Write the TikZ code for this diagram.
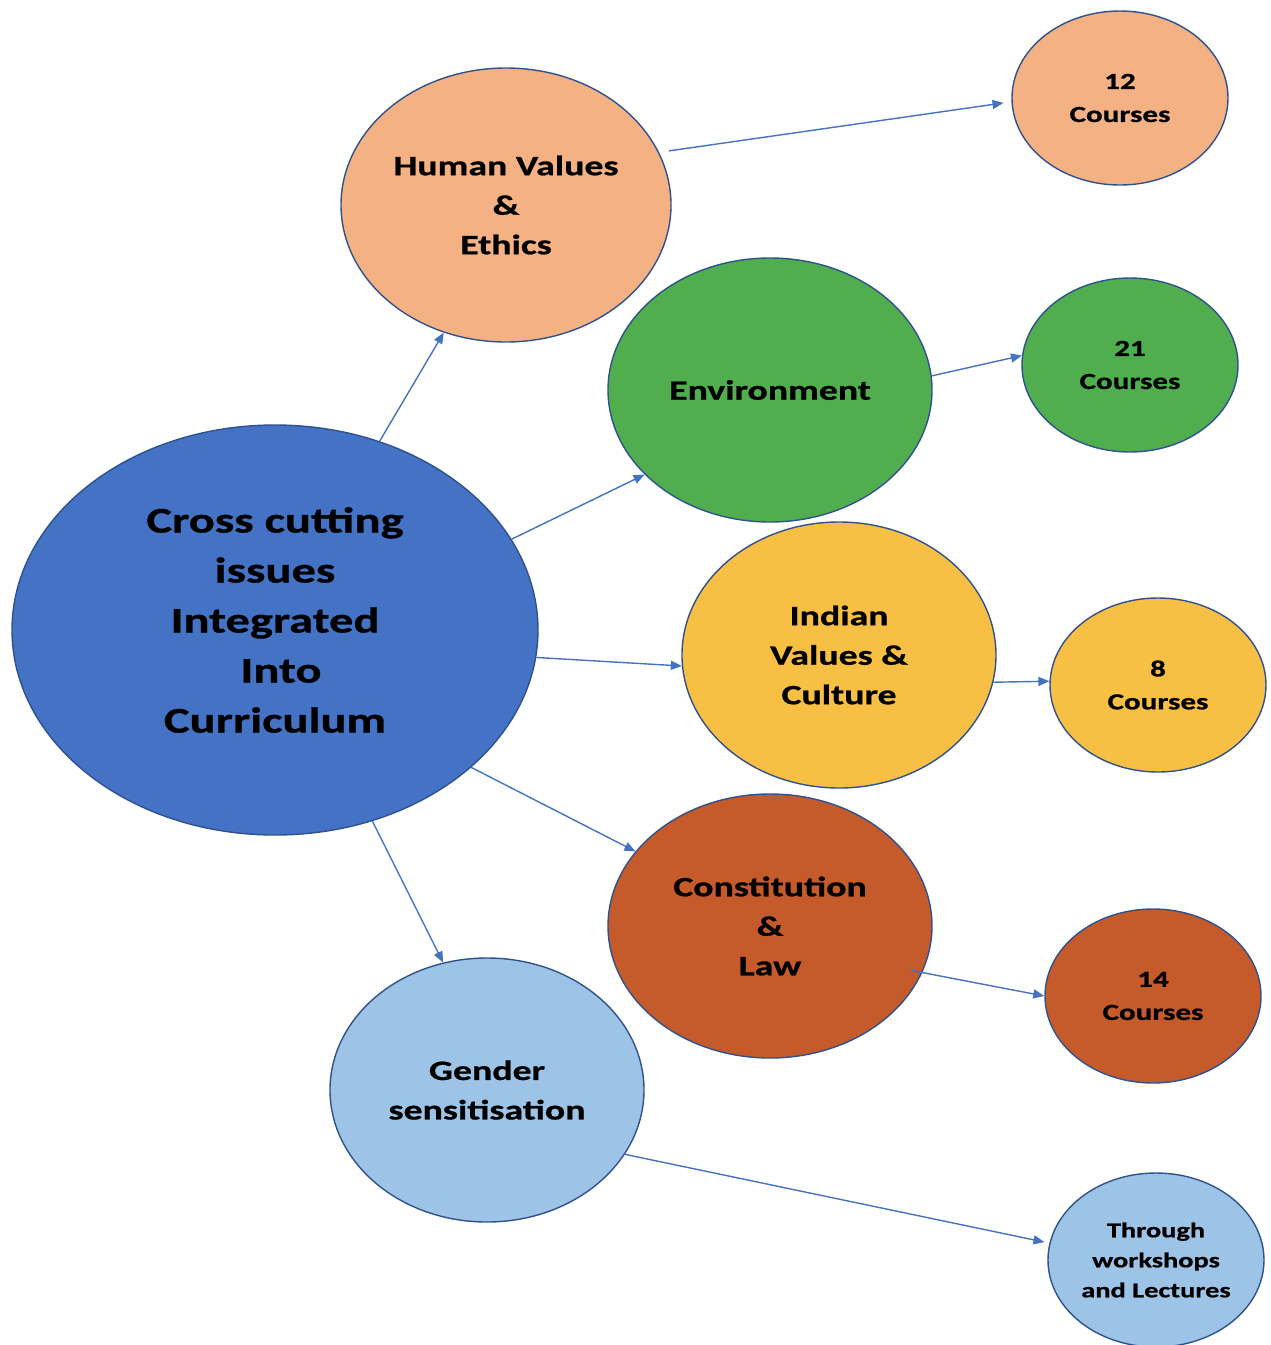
\documentclass[tikz,border=0pt]{standalone}
\usepackage{fontspec}
\setmainfont[FakeStretch=1.35,BoldFeatures={FakeBold=0.8}]{Carlito}
\usetikzlibrary{arrows.meta,shapes.geometric}

\definecolor{edgeblue}{HTML}{2F528F}
\definecolor{arrowblue}{HTML}{4472C4}
\definecolor{mainblue}{HTML}{4472C4}
\definecolor{peach}{HTML}{F4B183}
\definecolor{leafgreen}{HTML}{50AE4F}
\definecolor{gold}{HTML}{F8BF45}
\definecolor{rust}{HTML}{C55A2A}
\definecolor{skyblue}{HTML}{9DC3E6}

\tikzset{
  bubble/.style={ellipse, draw=edgeblue, line width=1.4pt, inner sep=0pt,
                 align=center, text=black, font=\bfseries},
  bigtext/.style={font=\fontsize{36}{50}\selectfont\bfseries},
  midtext/.style={font=\fontsize{28}{39.5}\selectfont\bfseries},
  smalltext/.style={font=\fontsize{23}{33}\selectfont\bfseries},
  tinytext/.style={font=\fontsize{21}{30}\selectfont\bfseries},
  mid/.style={minimum width=326pt, minimum height=266pt},
  leaf/.style={minimum width=216pt, minimum height=174pt},
  link/.style={draw=arrowblue, line width=1.4pt,
               -{Triangle[length=11pt,width=9pt]}}
}

\begin{document}
\begin{tikzpicture}[x=1pt,y=-1pt]
\useasboundingbox (0,0) rectangle (1271,1345);

% central theme: ellipse, with its caption set a little above centre
\node[bubble, fill=mainblue, minimum width=526pt, minimum height=410pt]
  (main) at (275,630) {};
\node[align=center, text=black, bigtext, inner sep=0pt]
  (maintext) at ([yshift=10pt]main.center)
  {Cross cutting\\issues\\Integrated\\\hspace*{12pt}Into\\Curriculum};

% cross-cutting issues
\node[bubble, midtext, mid, fill=peach, minimum width=330pt, minimum height=274pt]
  (human) at (506,205) {Human Values\\\&\\Ethics};
\node[bubble, midtext, mid, fill=leafgreen, minimum width=324pt, minimum height=264pt]
  (env) at (770,390) {Environment};
\node[bubble, midtext, mid, fill=gold, minimum width=314pt]
  (indian) at (839,655) {Indian\\Values \&\\Culture};
\node[bubble, midtext, mid, fill=rust, minimum width=324pt, minimum height=264pt]
  (cons) at (770,926) {Constitution\\\&\\Law};
\node[bubble, midtext, mid, fill=skyblue, minimum width=314pt, minimum height=264pt]
  (gender) at (487,1090) {Gender\\sensitisation};

% course counts
\node[bubble, smalltext, leaf, fill=peach] (c12) at (1120,98) {12\\Courses};
\node[bubble, smalltext, leaf, fill=leafgreen] (c21) at (1130,365) {21\\Courses};
\node[bubble, smalltext, leaf, fill=gold] (c8) at (1158,685) {8\\Courses};
\node[bubble, smalltext, leaf, fill=rust] (c14) at (1153,996) {14\\Courses};
\node[bubble, tinytext, leaf, fill=skyblue] (work) at (1156,1260)
  {Through\\workshops\\and Lectures};

% links from the central theme
\draw[link] (main.61) -- (human.-116);
\draw[link] (main.21) -- (env.214);
\draw[link] (main.-6.5) -- (indian.184.7);
\draw[link] (main.-35.6) -- (cons.151.8);
\draw[link] (main.-63) -- (gender.109.7);

% links to the course counts
\draw[link, shorten <=10pt, shorten >=8pt] (human.19) -- (c12.182);
\draw[link] (env.5) -- (c21.175);
\draw[link] (indian.-10) -- (c8.178);
\draw[link, shorten <=-12pt] (cons.-17) -- (c14.180);
\draw[link, shorten >=5pt] (gender.-25.4) -- (work.171.4);
\end{tikzpicture}
\end{document}
